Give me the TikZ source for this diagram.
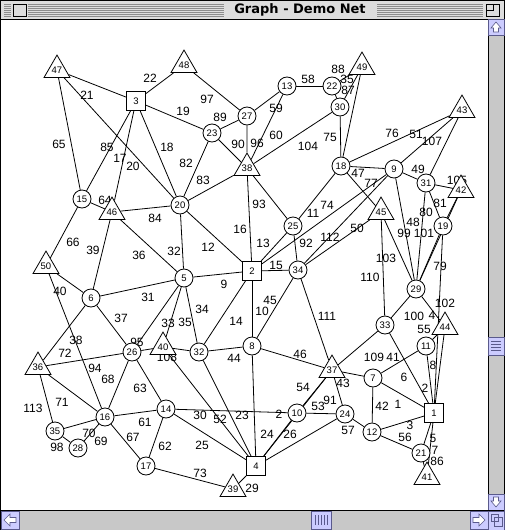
\documentclass[tikz,border=0pt]{standalone}
\usepackage{fontspec}
\setmainfont{Liberation Sans}
\newfontfamily\titlefont{DejaVu Sans}
\usetikzlibrary{shapes.geometric}
\pgfdeclarelayer{chrome}
\pgfdeclarelayer{wires}
\pgfsetlayers{chrome,wires,main}
\definecolor{sbtrack}{RGB}{200,200,200}
\definecolor{sbarrow}{RGB}{204,204,255}
\definecolor{sbedge}{RGB}{90,90,140}
\definecolor{stripe}{RGB}{140,140,140}
\definecolor{tbar}{RGB}{221,221,221}
\begin{document}
\begin{tikzpicture}[x=1pt,y=-1pt,
  cn/.style={circle,draw,fill=white,line width=0.8pt,minimum size=18pt,inner sep=0pt,font=\fontsize{9.5}{9.5}\selectfont},
  sn/.style={rectangle,draw,fill=white,line width=0.8pt,minimum size=19pt,inner sep=0pt,font=\fontsize{9.5}{9.5}\selectfont},
  tn/.style={regular polygon,regular polygon sides=3,draw,fill=white,line width=0.8pt,minimum size=27pt,inner sep=0pt,font=\fontsize{9.5}{9.5}\selectfont},
  lb/.style={inner sep=0pt,font=\fontsize{12}{12}\selectfont},
  ed/.style={line width=0.8pt},
  arrowbox/.style={fill=sbarrow,draw=sbedge,line width=0.6pt}
]
\useasboundingbox (0,0) rectangle (504,530);
% ---------- window chrome ----------
\begin{pgfonlayer}{chrome}
\fill[white] (0,0) rectangle (504,530);
\fill[tbar] (0,0) rectangle (504,19);
\foreach \yy in {4,6,...,16} {
  \draw[stripe,line width=0.7pt] (4,\yy) -- (11,\yy);
  \draw[stripe,line width=0.7pt] (28,\yy) -- (224,\yy);
  \draw[stripe,line width=0.7pt] (377,\yy) -- (483,\yy);
}
\draw[fill=tbar,line width=0.8pt] (13,4) rectangle (26,16);
\draw[fill=tbar,line width=0.8pt] (486,4) rectangle (499,16);
\draw[line width=0.6pt] (486,10) -- (493,10) -- (493,4);
\node[inner sep=0pt] (title) at (300,10) {\titlefont\bfseries\fontsize{13}{13}\selectfont Graph - Demo Net};
\draw[line width=0.8pt] (0,0) rectangle (504,530);
\draw[line width=0.8pt] (0,19) -- (504,19);
% right scrollbar
\fill[sbtrack] (488,19) rectangle (504,510);
\draw[line width=0.8pt] (488,19) -- (488,530);
\draw[arrowbox] (488,19) rectangle (504,35);
\draw[fill=white,draw=sbedge,line width=0.6pt] (496,22) -- (501,28) -- (498.5,28) -- (498.5,32) -- (493.5,32) -- (493.5,28) -- (491,28) -- cycle;
\draw[arrowbox] (488,494) rectangle (504,510);
\draw[fill=white,draw=sbedge,line width=0.6pt] (496,507) -- (501,501) -- (498.5,501) -- (498.5,497) -- (493.5,497) -- (493.5,501) -- (491,501) -- cycle;
\draw[arrowbox] (488,337) rectangle (504,355);
\foreach \yy in {341,344,347,350} \draw[sbedge,line width=0.5pt] (491,\yy) -- (501,\yy);
% bottom scrollbar
\fill[sbtrack] (1,510) rectangle (488,530);
\draw[line width=0.8pt] (0,510) -- (504,510);
\draw[arrowbox] (1,511) rectangle (19,529);
\draw[fill=white,draw=sbedge,line width=0.6pt] (4,520) -- (10,514) -- (10,517.5) -- (16,517.5) -- (16,522.5) -- (10,522.5) -- (10,526) -- cycle;
\draw[arrowbox] (470,511) rectangle (488,529);
\draw[fill=white,draw=sbedge,line width=0.6pt] (485,520) -- (479,514) -- (479,517.5) -- (473,517.5) -- (473,522.5) -- (479,522.5) -- (479,526) -- cycle;
\draw[arrowbox] (311,511) rectangle (331,529);
\foreach \xx in {315,318,321,324,327} \draw[sbedge,line width=0.5pt] (\xx,515) -- (\xx,525);
\draw[arrowbox] (488,511) rectangle (504,530);
\draw[sbedge,line width=0.6pt] (491,514) rectangle (498,521) (494,517) rectangle (502,526);
\end{pgfonlayer}
% ---------- nodes ----------
\node[sn] (n1) at (434,413) {1};
\node[sn] (n2) at (252,271) {2};
\node[sn] (n3) at (136,101) {3};
\node[sn] (n4) at (256,466) {4};
\node[cn] (n5) at (184,278) {5};
\node[cn] (n6) at (91,298) {6};
\node[cn] (n7) at (373,378) {7};
\node[cn] (n8) at (252,346) {8};
\node[cn] (n9) at (394,169) {9};
\node[cn] (n10) at (297,413) {10};
\node[cn] (n11) at (426,346) {11};
\node[cn] (n12) at (372,432) {12};
\node[cn] (n13) at (287,86) {13};
\node[cn] (n14) at (166,409) {14};
\node[cn] (n15) at (82,199) {15};
\node[cn] (n16) at (105,417) {16};
\node[cn] (n17) at (146,466) {17};
\node[cn] (n18) at (341,166) {18};
\node[cn] (n19) at (443,226) {19};
\node[cn] (n20) at (180,205) {20};
\node[cn] (n21) at (421,453) {21};
\node[cn] (n22) at (332,86) {22};
\node[cn] (n23) at (212,133) {23};
\node[cn] (n24) at (345,414) {24};
\node[cn] (n25) at (293,226) {25};
\node[cn] (n26) at (132,352) {26};
\node[cn] (n27) at (247,116) {27};
\node[cn] (n28) at (78,448) {28};
\node[cn] (n29) at (416,289) {29};
\node[cn] (n30) at (340,107) {30};
\node[cn] (n31) at (426,183) {31};
\node[cn] (n32) at (199,352) {32};
\node[cn] (n33) at (385,325) {33};
\node[cn] (n34) at (298,270) {34};
\node[cn] (n35) at (55,431) {35};
\node[tn] (n36) at (38,367) {36};
\node[tn] (n37) at (332,370) {37};
\node[tn] (n38) at (247,168) {38};
\node[tn] (n39) at (233,489) {39};
\node[tn] (n40) at (163,347) {40};
\node[tn] (n41) at (427,477) {41};
\node[tn] (n42) at (461,190) {42};
\node[tn] (n43) at (462,110) {43};
\node[tn] (n44) at (445,327) {44};
\node[tn] (n45) at (381,212) {45};
\node[tn] (n46) at (112,212) {46};
\node[tn] (n47) at (57,70) {47};
\node[tn] (n48) at (184,65) {48};
\node[tn] (n49) at (362,67) {49};
\node[tn] (n50) at (46,266) {50};
% ---------- connectors and their labels ----------
\begin{pgfonlayer}{wires}
\foreach \a/\b in {1/7,1/11,1/12,1/19,1/21,1/33,1/41,1/44,
  2/5,2/8,2/9,2/20,2/25,2/32,2/34,2/38,
  3/15,3/20,3/23,3/46,3/47,3/48,
  4/8,4/10,4/14,4/24,4/32,4/37,4/39,4/40,
  5/6,5/20,5/26,5/32,5/40,5/46,
  6/26,6/36,6/46,6/50,
  7/11,7/12,7/37,
  8/32,8/34,8/37,
  9/18,9/29,9/31,9/34,9/43,
  10/14,10/24,10/37,
  11/44,
  12/21,12/24,
  13/22,13/27,13/38,
  14/16,14/17,14/26,
  15/46,15/47,15/50,
  16/17,16/26,16/28,16/35,16/36,16/50,
  17/39,
  18/25,18/30,18/43,18/45,18/49,
  19/29,19/31,19/42,
  20/23,20/38,20/46,20/47,
  21/41,
  22/30,22/49,
  23/27,23/38,
  24/37,
  25/34,25/38,
  26/36,26/40,
  27/38,27/48,
  28/35,
  29/31,29/33,29/42,29/44,29/45,
  30/38,30/49,
  31/42,31/43,
  32/40,
  33/37,33/45,
  34/37,34/45,
  35/36}
  \draw[ed] (n\a) -- (n\b);
\foreach \t/\x/\y [count=\i] in {1/398/404, 2/425/388, 3/410/425, 4/432/315, 5/433/438, 6/404/377, 7/435/450, 8/433/365, 9/224/284, 10/262/311, 11/313/213, 12/208/247, 13/263/243, 14/236/321, 15/276/265, 16/240/229, 17/120/158, 18/167/147, 19/183/111, 20/133/166, 21/87/95, 22/150/78, 23/242/415, 24/267/434, 25/202/445, 26/290/434, 2/279/414, 29/252/488, 30/200/415, 31/148/297, 32/174/251, 33/168/323, 34/202/309, 35/185/322, 36/139/255, 37/121/318, 38/76/340, 39/93/250, 40/60/291, 41/393/357, 42/382/406, 43/343/383, 44/234/358, 45/270/300, 46/300/354, 47/358/173, 48/413/222, 49/418/169, 50/357/228, 51/416/134, 52/220/419, 53/318/406, 54/303/387, 55/424/329, 56/405/437, 57/348/430, 58/308/79, 59/276/108, 60/276/135, 61/145/422, 62/165/446, 63/140/388, 64/105/200, 65/59/144, 66/73/242, 67/133/437, 68/108/379, 69/101/441, 70/89/433, 71/62/402, 72/65/353, 73/200/473, 74/327/205, 75/330/137, 76/392/133, 77/371/183, 79/440/266, 80/426/212, 81/440/203, 82/186/163, 83/203/180, 84/155/218, 85/107/147, 86/437/461, 87/348/90, 88/338/69, 35/347/79, 89/220/117, 90/238/144, 91/330/400, 92/306/243, 93/259/204, 94/95/368, 95/137/342, 96/257/143, 97/207/99, 98/57/447, 99/404/233, 100/414/316, 101/424/233, 102/445/303, 103/386/258, 104/308/146, 105/457/180, 107/432/141, 108/167/357, 109/374/357, 110/370/277, 111/327/316, 112/330/237, 113/33/408}
  \node[lb] (l\i) at (\x,\y) {\t};
\end{pgfonlayer}
\end{tikzpicture}
\end{document}
